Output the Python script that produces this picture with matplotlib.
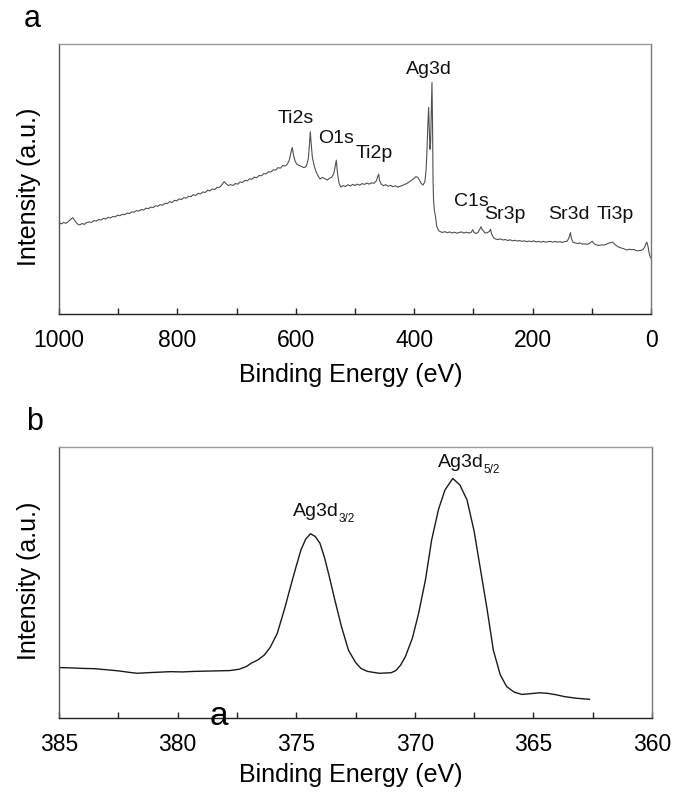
import matplotlib
matplotlib.use("Agg")
import matplotlib.pyplot as plt
from matplotlib.ticker import MultipleLocator

plt.rcParams['font.family'] = ['Liberation Sans', 'DejaVu Sans']

# ---------------- Panel a: survey spectrum ----------------
survey_ev = [1000, 996, 992, 988, 984, 980, 977, 974, 971, 968, 965, 961, 957, 953, 949, 945, 941, 937, 933, 929,
             925, 921, 917, 913, 909, 905, 901, 897, 893, 889, 885, 881, 877, 873, 869, 865, 861, 857, 853, 849,
             845, 841, 837, 833, 829, 825, 821, 817, 813, 809, 805, 801, 797, 793, 789, 785, 781, 777, 773, 769,
             765, 761, 757, 753, 749, 745, 741, 737, 733, 729, 725, 721, 718, 714, 710, 706, 702, 698, 694, 690,
             686, 682, 678, 674, 670, 666, 662, 658, 654, 650, 646, 642, 638, 634, 630, 626, 622, 618, 614, 611,
             608, 606, 604, 601, 598, 594, 590, 586, 582, 579, 577, 575.5, 574, 572, 569, 566, 562, 559, 555, 551,
             547, 543, 539, 536, 534, 531.6, 529.5, 527, 524, 520, 516, 512, 508, 504, 500, 496, 492, 488, 484, 480,
             476, 472, 468, 464, 461.5, 460, 458.5, 456, 452, 448, 444, 440, 436, 432, 428, 424, 420, 416, 412, 408,
             404, 400, 397, 394, 391, 388, 385, 382, 380, 378.5, 377, 375.6, 374.5, 373.3, 372.3, 371.2, 370, 369,
             368.2, 367.3, 366, 364, 362, 359, 356, 352, 348, 344, 340, 336, 332, 328, 324, 320, 316, 312, 308, 304,
             301, 299, 296, 292, 289, 287, 285, 283, 281, 279, 276, 273, 271, 269, 266, 262, 258, 254, 250, 246,
             242, 238, 234, 230, 226, 222, 218, 214, 210, 206, 202, 198, 194, 190, 186, 182, 178, 174, 170, 166,
             162, 158, 154, 150, 146, 142, 139, 137, 136, 134.5, 132, 128, 124, 120, 116, 112, 108, 104, 101, 99,
             96, 92, 88, 84, 80, 76, 72, 68, 65, 62, 59, 55, 51, 47, 44, 41, 37, 33, 29, 25,
             21, 17, 14, 11, 9, 7, 5, 3.5, 1.5, 0.5]
survey_int = [33.8, 33.4, 33.9, 33.6, 34.3, 35.1, 35.7, 34.8, 33.9, 33.2, 33.0, 33.5, 33.2, 33.9, 34.1, 33.9, 34.6, 34.4, 35.0, 34.8,
              35.4, 35.2, 35.8, 35.6, 36.1, 36.0, 36.6, 36.4, 36.9, 36.8, 37.4, 37.2, 37.8, 37.7, 38.3, 38.1, 38.7, 38.5, 39.2, 39.0,
              39.6, 39.4, 40.1, 39.9, 40.5, 40.3, 41.0, 40.9, 41.6, 41.3, 42.1, 41.9, 42.6, 42.4, 43.1, 42.9, 43.6, 43.5, 44.2, 43.9,
              44.7, 44.5, 45.2, 45.0, 45.8, 45.6, 46.3, 46.1, 46.9, 46.9, 47.8, 49.0, 48.3, 47.6, 47.9, 47.6, 48.3, 48.1, 48.9, 48.7,
              49.5, 49.3, 50.1, 49.9, 50.7, 50.5, 51.3, 51.2, 52.0, 51.9, 52.7, 52.6, 53.4, 53.3, 54.2, 54.0, 55.0, 54.8, 55.6, 57.0,
              60.0, 61.7, 59.0, 56.5, 55.4, 55.0, 54.6, 54.2, 54.8, 57.5, 62.5, 67.5, 63.0, 58.0, 55.0, 52.8, 51.0, 50.0, 50.6, 50.1,
              49.6, 50.3, 50.7, 52.0, 54.0, 57.0, 52.0, 48.5, 47.0, 47.6, 47.2, 47.9, 47.4, 48.0, 47.6, 48.1, 47.7, 48.3, 48.0, 48.5,
              48.1, 48.6, 48.4, 49.3, 51.0, 51.8, 49.5, 48.2, 47.5, 47.9, 47.3, 47.7, 47.1, 47.5, 47.0, 47.3, 47.6, 48.0, 48.4, 49.0,
              49.6, 50.3, 50.9, 50.6, 49.5, 48.3, 47.8, 49.0, 53.0, 60.0, 70.0, 76.5, 68.0, 61.0, 63.5, 75.0, 85.8, 70.0,
              50.0, 42.0, 38.5, 36.0, 32.5, 31.0, 30.5, 30.2, 30.5, 30.1, 30.4, 30.0, 30.3, 29.9, 30.2, 30.4, 30.0, 30.3, 30.0, 30.2,
              31.2, 30.2, 29.8, 30.3, 31.5, 32.3, 31.2, 30.8, 30.1, 30.0, 30.2, 30.6, 31.4, 29.5, 28.3, 27.7, 27.6, 27.8, 27.4, 27.6,
              27.2, 27.5, 27.1, 27.3, 27.0, 27.2, 26.9, 27.1, 26.8, 27.0, 26.8, 27.1, 26.7, 26.9, 26.6, 26.9, 26.6, 26.8, 26.9, 26.6,
              26.9, 26.6, 26.8, 26.5, 26.8, 26.9, 28.0, 29.5, 30.1, 28.0, 26.6, 26.3, 26.1, 26.3, 25.9, 26.0, 25.8, 26.1, 26.7, 26.9,
              26.0, 25.6, 25.4, 25.6, 25.5, 25.8, 26.2, 26.4, 26.6, 26.0, 25.4, 24.8, 24.5, 24.2, 24.0, 23.7, 24.0, 23.8, 23.9, 23.5,
              23.4, 23.6, 23.8, 24.6, 25.8, 26.6, 25.0, 23.0, 21.2, 20.8]

survey_labels = ['Ti2s', 'O1s', 'Ti2p', 'Ag3d', 'C1s', 'Sr3p', 'Sr3d', 'Ti3p']
survey_label_ev = [600, 532, 468, 375, 303, 247.5, 138.5, 61]
survey_label_int = [70.7, 63.2, 57.7, 88.9, 40.0, 35.1, 35.1, 35.1]

# ---------------- Panel b: Ag 3d high resolution ----------------
ag_ev = [385.0, 384.5, 384.0, 383.5, 383.0, 382.5, 382.0, 381.7, 381.3, 380.8, 380.3, 379.8, 379.3, 378.8,
         378.3, 377.8, 377.4, 377.1, 376.9, 376.6, 376.35, 376.1, 375.8, 375.5, 375.2, 375.0, 374.8, 374.6,
         374.4, 374.2, 374.0, 373.8, 373.6, 373.37, 373.1, 372.8, 372.5, 372.27, 372.0, 371.5, 371.0, 370.8,
         370.6, 370.4, 370.1, 369.84, 369.55, 369.29, 369.0, 368.73, 368.4, 368.1, 367.8, 367.5, 367.25,
         366.95, 366.69, 366.4, 366.13, 365.8, 365.48, 365.1, 364.74, 364.4, 364.0, 363.7, 363.2, 362.64]
ag_int = [18.6, 18.5, 18.3, 18.2, 17.8, 17.4, 16.8, 16.5, 16.7, 16.9, 17.1, 17.0, 17.2, 17.3,
          17.4, 17.5, 18.0, 19.0, 20.2, 21.5, 23.2, 26.0, 31.2, 40.0, 49.7, 56.0, 62.0, 66.0,
          68.0, 67.0, 64.5, 59.0, 52.0, 43.5, 34.0, 25.1, 20.5, 18.3, 17.2, 16.5, 16.7, 17.5,
          19.5, 22.6, 29.5, 38.6, 51.0, 65.7, 77.0, 84.1, 88.4, 86.0, 80.5, 69.0, 55.8,
          40.0, 25.1, 16.0, 11.6, 9.5, 8.7, 9.0, 9.3, 9.1, 8.5, 7.9, 7.3, 6.9]

ag_labels = ['Ag3d', 'Ag3d']
ag_subscripts = ['3/2', '5/2']
ag_label_ev = [375.13, 369.02]
ag_label_int = [74.5, 92.7]

W, H = 684, 793
fig = plt.figure(figsize=(W / 100, H / 100), dpi=100)


def px(x, y):
    return x / W, 1 - y / H


def style_axes(ax):
    ax.spines['left'].set_color('#555555')
    ax.spines['bottom'].set_color('#222222')
    ax.spines['top'].set_color('#9a9a9a')
    ax.spines['right'].set_color('#777777')
    for s in ax.spines.values():
        s.set_linewidth(1.0)
    ax.set_yticks([])
    ax.tick_params(axis='x', which='both', direction='in', length=4, width=1.0,
                   labelsize=16.5, pad=11, color='#222222', top=False)


# Panel a
axa = fig.add_axes([59 / W, 1 - 314 / H, 592 / W, 270 / H])
axa.plot(survey_ev, survey_int, color='#505050', lw=0.8)
axa.set_xlim(1000, 0)
axa.set_ylim(0, 100)
axa.xaxis.set_major_locator(MultipleLocator(200))
axa.xaxis.set_minor_locator(MultipleLocator(100))
style_axes(axa)
for lab, xv, yv in zip(survey_labels, survey_label_ev, survey_label_int):
    axa.text(xv, yv, lab, ha='center', va='baseline', fontsize=14, color='#111111')

# Panel b
axb = fig.add_axes([59 / W, 1 - 718 / H, 593 / W, 271 / H])
axb.plot(ag_ev, ag_int, color='#1a1a1a', lw=1.0)
axb.set_xlim(385, 360)
axb.set_ylim(0, 100)
axb.xaxis.set_major_locator(MultipleLocator(5))
axb.xaxis.set_minor_locator(MultipleLocator(2.5))
style_axes(axb)
for lab, sub, xv, yv in zip(ag_labels, ag_subscripts, ag_label_ev, ag_label_int):
    axb.text(xv, yv, lab, ha='left', va='baseline', fontsize=14, color='#111111')
    axb.annotate(sub, xy=(xv, yv), xytext=(33, -4.5), textcoords='offset points',
                 ha='left', va='baseline', fontsize=8.5, color='#111111')

# Axis labels and panel letters
fig.text(*px(351, 375), 'Binding Energy (eV)', ha='center', va='center', fontsize=18)
fig.text(*px(351, 775), 'Binding Energy (eV)', ha='center', va='center', fontsize=18)
fig.text(*px(29, 187), 'Intensity (a.u.)', ha='center', va='center', rotation=90, fontsize=18)
fig.text(*px(29, 581), 'Intensity (a.u.)', ha='center', va='center', rotation=90, fontsize=18)
fig.text(*px(24, 27), 'a', ha='left', va='baseline', fontsize=22)
fig.text(*px(26, 430), 'b', ha='left', va='baseline', fontsize=22)
fig.text(*px(210, 725), 'a', ha='left', va='baseline', fontsize=24, zorder=10)

fig.savefig('out.png', dpi=100)
